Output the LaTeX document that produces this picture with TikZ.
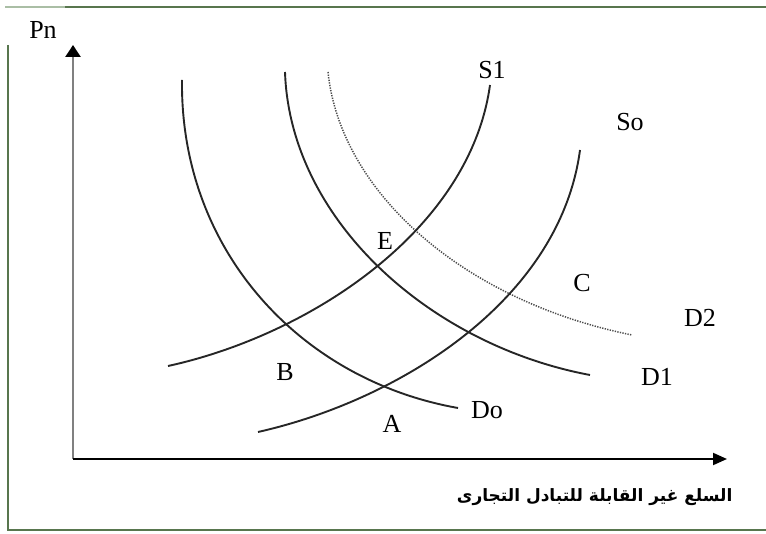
\documentclass[tikz,border=0pt]{standalone}
\usepackage{fontspec}
\setmainfont{Liberation Serif}
\newfontfamily\arabicfont[Script=Arabic]{DejaVu Sans}
\TeXXeTstate=1
\usetikzlibrary{arrows.meta}
\definecolor{framegreen}{RGB}{88,118,78}
\definecolor{framelight}{RGB}{170,190,165}

\begin{document}
\begin{tikzpicture}[x=1pt, y=-1pt,
    curve/.style={line width=1.9pt, black!85},
    lbl/.style={font=\fontsize{26}{26}\selectfont, inner sep=0pt}]
    \useasboundingbox (0,0) rectangle (766,534);

    % Frame
    \draw[framelight, line width=2.4pt] (5,7) -- (65,7);
    \draw[framegreen, line width=2.4pt] (65,7) -- (766,7);
    \draw[framegreen, line width=2pt] (8,45) -- (8,530) -- (766,530);

    % Axes
    \coordinate (origin) at (73,459);
    \coordinate (ytip) at (73,45);
    \coordinate (xtip) at (727,459);
    \draw[-{Triangle[length=12pt,width=15pt,black]}, line width=2.4pt, black!50] (origin) -- (ytip);
    \draw[-{Triangle[length=14pt,width=12pt]}, line width=2pt, black] (origin) -- (xtip);
    \node[lbl] (pn) at (43,30) {Pn};
    \node[font=\arabicfont\bfseries\fontsize{17}{17}\selectfont, anchor=east] (goods) at (736,497)
        {\beginR السلع غير القابلة للتبادل التجارى\endR};

    % Demand curves
    \draw[curve] (182,80) .. controls (180,250) and (300,380) .. (458,408);
    \draw[curve] (285,72) .. controls (290,220) and (430,345) .. (590,375);
    \draw[line width=1.5pt, black!70, dash pattern=on 1.3pt off 1.3pt] (328,72) .. controls (340,190) and (460,300) .. (632,335);

    % Supply curves
    \draw[curve] (168,366) .. controls (310,335) and (470,230) .. (490,85);
    \draw[curve] (258,432) .. controls (400,400) and (560,300) .. (580,150);

    % Labels
    \node[lbl] (s1) at (492,70) {S1};
    \node[lbl] (so) at (630,122) {So};
    \node[lbl] (e) at (385,241) {E};
    \node[lbl] (c) at (582,283) {C};
    \node[lbl] (d2) at (700,318) {D2};
    \node[lbl] (d1) at (657,377) {D1};
    \node[lbl] (b) at (285,372) {B};
    \node[lbl] (a) at (392,424) {A};
    \node[lbl] (do) at (487,410) {Do};
\end{tikzpicture}
\end{document}
